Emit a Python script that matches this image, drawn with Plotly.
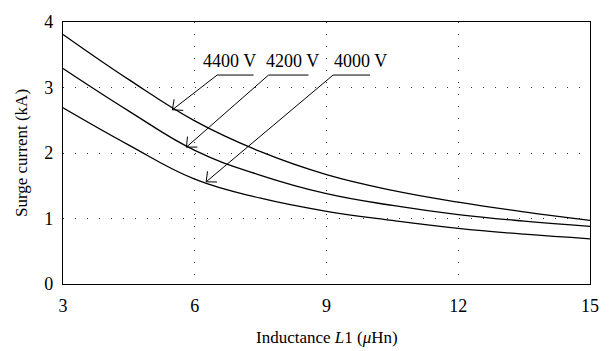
import math
import plotly.graph_objects as go

# Data
inductance = [3, 4.5, 6, 7.5, 9, 10.5, 12, 13.5, 15]
surge_4400 = [3.81, 3.12, 2.49, 2.02, 1.67, 1.43, 1.25, 1.10, 0.97]
surge_4200 = [3.29, 2.64, 2.04, 1.66, 1.38, 1.20, 1.06, 0.96, 0.88]
surge_4000 = [2.69, 2.12, 1.60, 1.31, 1.11, 0.97, 0.85, 0.76, 0.69]
series_names = ["4400 V", "4200 V", "4000 V"]
x_ticks = [3, 6, 9, 12, 15]
y_ticks = [0, 1, 2, 3, 4]

# annotation geometry (data coords): arrow tip, elbow, end of underline, label centre
label_tip = [(5.49, 2.66), (5.81, 2.09), (6.26, 1.56)]
label_elbow = [(6.51, 3.19), (7.68, 3.19), (9.15, 3.19)]
label_end = [(7.34, 3.19), (8.59, 3.19), (9.99, 3.19)]
label_text_x = [6.79, 8.22, 9.78]

FONT = "Liberation Serif"
W, H = 611, 351
ML, MR, MT, MB = 63, 18, 12, 67
xr = (3, 15)
yr = (0, 4)
sx = (W - ML - MR) / (xr[1] - xr[0])
sy = (H - MT - MB) / (yr[1] - yr[0])

fig = go.Figure()
for ys, name in zip([surge_4400, surge_4200, surge_4000], series_names):
    fig.add_trace(go.Scatter(x=inductance, y=ys, mode="lines", name=name,
                             line=dict(color="black", width=1.3, shape="spline", smoothing=1.2),
                             showlegend=False, hoverinfo="skip"))

shapes = []
annotations = []
for name, tip, elbow, end, tx in zip(series_names, label_tip, label_elbow, label_end, label_text_x):
    lk = dict(color="black", width=1)
    shapes.append(dict(type="line", xref="x", yref="y", x0=elbow[0], y0=elbow[1],
                       x1=end[0], y1=end[1], line=lk))
    shapes.append(dict(type="line", xref="x", yref="y", x0=elbow[0], y0=elbow[1],
                       x1=tip[0], y1=tip[1], line=lk))
    # arrowhead (open V) computed in pixel space
    dx = (elbow[0] - tip[0]) * sx
    dy = (elbow[1] - tip[1]) * sy
    ang = math.atan2(dy, dx)
    L = 11
    for a in (ang + math.radians(42), ang - math.radians(42)):
        shapes.append(dict(type="line", xref="x", yref="y", x0=tip[0], y0=tip[1],
                           x1=tip[0] + L * math.cos(a) / sx, y1=tip[1] + L * math.sin(a) / sy,
                           line=lk))
    annotations.append(dict(x=tx, y=elbow[1], xref="x", yref="y",
                            text=name, showarrow=False, yanchor="bottom", yshift=2,
                            font=dict(family=FONT, size=18, color="black")))

annotations.append(dict(x=0.5, y=-0.206, xref="paper", yref="paper", yanchor="middle",
                        text="Inductance <i>L</i>1 (<i>μ</i>Hn)", showarrow=False,
                        font=dict(family=FONT, size=17, color="black")))

fig.update_layout(
    width=W, height=H,
    margin=dict(l=ML, r=MR, t=MT, b=MB),
    paper_bgcolor="white", plot_bgcolor="white",
    shapes=shapes, annotations=annotations,
    font=dict(family=FONT, size=17, color="black"),
)
fig.update_xaxes(range=list(xr), tickvals=x_ticks, showline=True, linecolor="black",
                 linewidth=1.4, mirror=True, showgrid=True, gridcolor="#333",
                 griddash="1px,11px", gridwidth=1, zeroline=False,
                 ticks="outside", ticklen=5, tickcolor="rgba(0,0,0,0)",
                 tickfont=dict(family=FONT, size=18))
fig.update_yaxes(range=list(yr), tickvals=y_ticks, showline=True, linecolor="black",
                 linewidth=1.4, mirror=True, showgrid=True, gridcolor="#333",
                 griddash="1px,11px", gridwidth=1, zeroline=False,
                 ticks="outside", ticklen=5, tickcolor="rgba(0,0,0,0)",
                 tickfont=dict(family=FONT, size=18),
                 title=dict(text="Surge current (kA)", font=dict(family=FONT, size=17), standoff=12))

fig.write_html("out.html")
